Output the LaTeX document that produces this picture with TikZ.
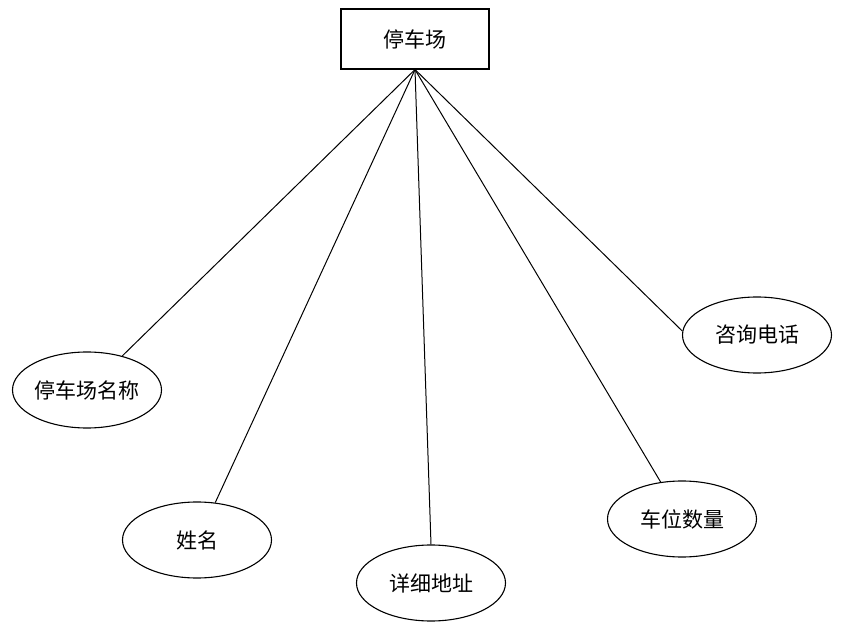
\documentclass[tikz,border=0pt]{standalone}
\usepackage{fontspec}
\newfontfamily\cjk{Noto Sans CJK SC}
\usetikzlibrary{shapes.geometric}
\begin{document}
\begin{tikzpicture}[x=1pt,y=-1pt,
  entity/.style={draw,line width=1.1pt,minimum width=148pt,minimum height=60pt,inner sep=0pt,font=\cjk\fontsize{21}{25}\selectfont},
  attr/.style={draw,ellipse,line width=1.1pt,minimum width=149pt,minimum height=76pt,inner sep=0pt,font=\cjk\fontsize{21}{25}\selectfont},
  link/.style={line width=1pt}]
\useasboundingbox (0,0) rectangle (855,639);
\node[entity] (p) at (415,39) {停车场};
\node[attr] (e1) at (87,390) {停车场名称};
\node[attr] (e2) at (197,540) {姓名};
\node[attr] (e3) at (431,583) {详细地址};
\node[attr] (e4) at (682,519) {车位数量};
\node[attr] (e5) at (757,335) {咨询电话};
\draw[link] (p.south) -- (e1.44);
\draw[link] (p.south) -- (e2.64);
\draw[link] (p.south) -- (e3.north);
\draw[link] (p.south) -- (e4.120);
\draw[link] (p.south) -- (e5.177);
\end{tikzpicture}
\end{document}
